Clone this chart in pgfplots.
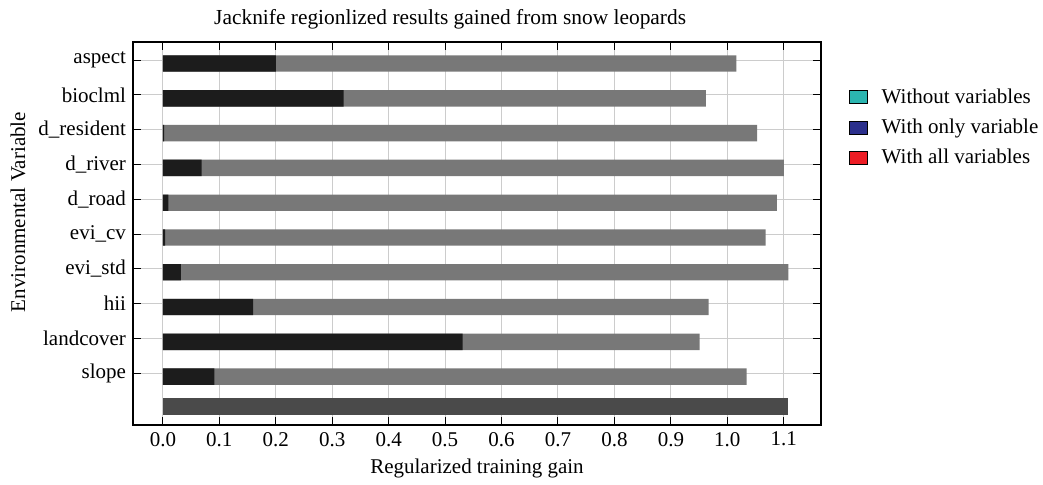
\documentclass[border=0pt]{standalone}
\usepackage{fontspec}
\setmainfont{Liberation Serif}
\usepackage{pgfplots}
\pgfplotsset{compat=1.18}
\definecolor{barwo}{HTML}{787878}
\definecolor{barwith}{HTML}{1C1C1C}
\definecolor{barall}{HTML}{4A4A4A}
\definecolor{legteal}{HTML}{2BB5B0}
\definecolor{legnavy}{HTML}{2B2F8C}
\definecolor{legred}{HTML}{ED1C24}
\definecolor{gridc}{HTML}{CCCCCC}
\begin{document}
\begin{tikzpicture}
\begin{axis}[
  name=ax,
  scale only axis,
  width=344pt, height=191.5pt,
  xbar, bar width=0.47, bar shift=0pt,
  font=\fontsize{10.5}{12}\selectfont,
  /pgf/number format/assume math mode=true,
  xmin=-0.053, xmax=1.166,
  ymin=-1.49, ymax=9.52,
  xtick={0,0.1,...,1.1},
  xticklabel style={/pgf/number format/fixed,/pgf/number format/fixed zerofill,/pgf/number format/precision=1},
  ytick={0,...,9},
  yticklabels={slope,landcover,hii,evi\_std,evi\_cv,d\_road,d\_river,d\_resident,bioclml,aspect},
  tick align=inside,
  major tick length=4pt,
  tick style={black, line width=0.5pt},
  xmajorgrids, ymajorgrids,
  grid style={gridc, line width=0.5pt},
  axis line style={black, line width=0.7pt},
  every axis title shift=0pt,
  title={Jacknife regionlized results gained from snow leopards},
  title style={at={(axis description cs:0.461,1.058)}, anchor=center, yshift=0pt, inner sep=0pt, font=\fontsize{10.7}{12}\selectfont},
  xlabel={Regularized training gain},
  xlabel style={at={(axis description cs:0.5,-0.113)}, anchor=center, inner sep=0pt},
  ylabel={Environmental Variable},
  ylabel style={at={(axis description cs:-0.167,0.556)}, anchor=center, rotate=0, inner sep=0pt},
  legend style={at={(axis description cs:1.04,0.89)}, anchor=north west, draw=none, fill=none,
    row sep=2.4pt, font=\fontsize{10.5}{12}\selectfont, inner sep=0pt},
  legend cell align=left,
  legend image code/.code={\draw[#1, draw=black, line width=0.4pt] (0pt,-3.2pt) rectangle (9pt,3.2pt);},
]
% without variable (gray), y = 9 - index - 0.1
\addplot[fill=barwo, draw=none, forget plot] coordinates {
(1.016,8.9) (0.962,7.9) (1.053,6.9) (1.100,5.9) (1.088,4.9)
(1.068,3.9) (1.108,2.9) (0.967,1.9) (0.951,0.9) (1.034,-0.1)};
% with only variable (black)
\addplot[fill=barwith, draw=none, forget plot] coordinates {
(0.200,8.9) (0.320,7.9) (0.002,6.9) (0.0685,5.9) (0.0095,4.9)
(0.004,3.9) (0.032,2.9) (0.160,1.9) (0.531,0.9) (0.091,-0.1)};
% with all variables
\addplot[fill=barall, draw=none, forget plot] coordinates {(1.108,-0.96)};
\addlegendimage{fill=legteal}
\addlegendentry{\hspace{5pt}Without variables}
\addlegendimage{fill=legnavy}
\addlegendentry{\hspace{5pt}With only variable}
\addlegendimage{fill=legred}
\addlegendentry{\hspace{5pt}With all variables}
\end{axis}
\pgfresetboundingbox
\path (ax.south west) ++(-66.5pt,-30pt) rectangle ++(521.5pt,242.5pt);
\end{tikzpicture}
\end{document}
